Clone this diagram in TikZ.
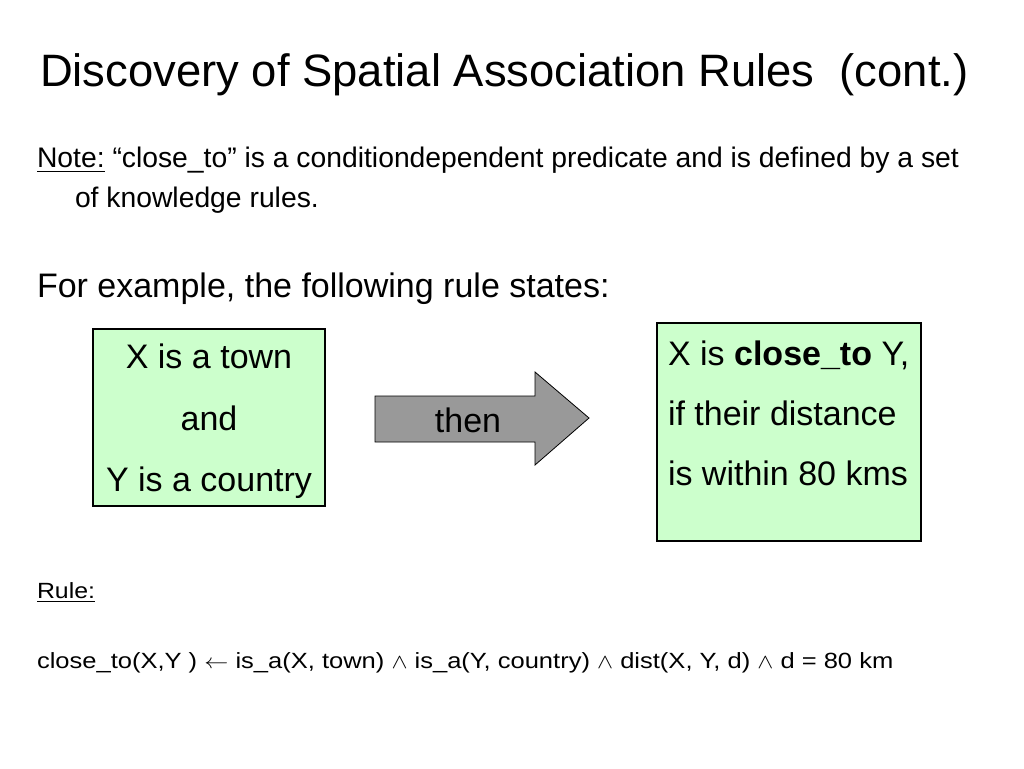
\documentclass[tikz,border=0pt]{standalone}
\usepackage{fontspec}
\setmainfont{Liberation Sans}
\usepackage{amssymb}
\usepackage{graphicx}
\definecolor{boxgreen}{HTML}{CCFFCC}
\definecolor{arrowgray}{HTML}{999999}
\newcommand{\hstretch}[2]{\scalebox{#1}[1]{#2}}
\begin{document}
\begin{tikzpicture}[x=1pt,y=-1pt,
  txt/.style={anchor=base west,inner sep=0pt,outer sep=0pt},
  ctxt/.style={anchor=base,inner sep=0pt,outer sep=0pt},
  greenbox/.style={draw=black,line width=1.3pt,fill=boxgreen},
  grayarrow/.style={draw=black,line width=0.8pt,fill=arrowgray},
  notefont/.style={font=\fontsize{28.3}{32}\selectfont},
  bigfont/.style={font=\fontsize{34}{38}\selectfont},
  smallfont/.style={font=\fontsize{22}{26}\selectfont}]
\useasboundingbox (0,0) rectangle (1024,768);
\fill[white] (0,0) rectangle (1024,768);
% title
\node[txt,font=\fontsize{45.4}{50}\selectfont] (title) at (40,86) {Discovery of Spatial Association Rules\ \ (cont.)};
% note
\node[txt,notefont] (note1) at (37,167) {\underline{Note:} “close\_to” is a conditiondependent predicate and is defined by a set};
\node[txt,notefont] (note2) at (75,207) {of knowledge rules.};
\node[txt,bigfont] (example) at (37,297) {For example, the following rule states:};
% boxes
\draw[greenbox] (93,329) rectangle (325,506);
\draw[greenbox] (657,323) rectangle (921,541);
\node[ctxt,bigfont] (l1) at (209,368) {X is a town};
\node[ctxt,bigfont] (l2) at (209,430) {and};
\node[ctxt,bigfont] (l3) at (209,491) {Y is a country};
\node[txt,bigfont] (r1) at (668,365) {X is \textbf{close\_to} Y,};
\node[txt,bigfont] (r2) at (668,425) {if their distance};
\node[txt,bigfont] (r3) at (668,485) {is within 80 kms};
% arrow
\draw[grayarrow] (375,396) -- (535,396) -- (535,372) -- (589,418) -- (535,465) -- (535,442) -- (375,442) -- cycle;
\node[ctxt,bigfont] (then) at (468,432) {then};
% rule
\node[txt,smallfont] (rule) at (37,598) {\hstretch{1.13}{\underline{Rule:}}};
\node[txt,smallfont] (formula) at (37,668) {\hstretch{1.16}{close\_to(X,Y ) $\leftarrow$ is\_a(X, town) $\wedge$ is\_a(Y, country) $\wedge$ dist(X, Y, d) $\wedge$ d = 80 km}};
\end{tikzpicture}
\end{document}
